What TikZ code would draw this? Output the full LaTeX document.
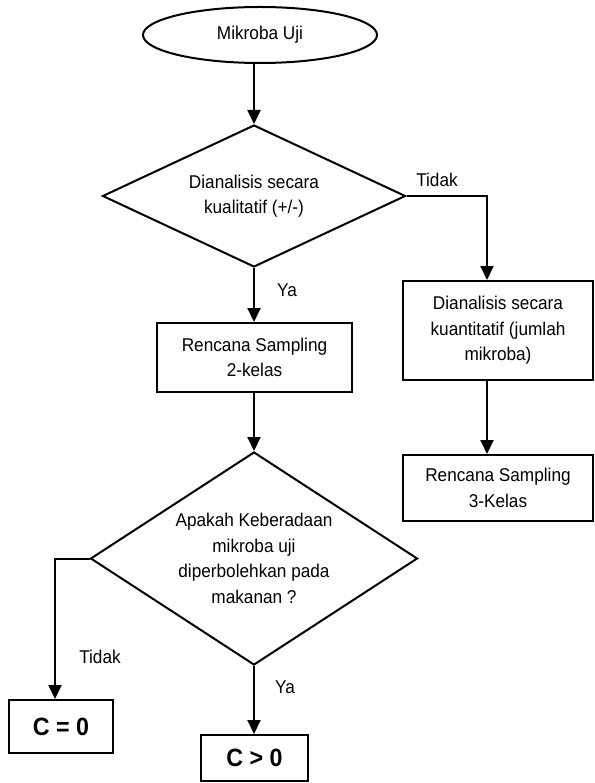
\documentclass[tikz,border=0pt]{standalone}
\usepackage{fontspec}
\setmainfont{Liberation Sans}[FakeStretch=0.93]
\usetikzlibrary{shapes.geometric,arrows.meta}
\begin{document}
\begin{tikzpicture}[x=1pt,y=-1pt,
  every node/.style={font=\fontsize{18.5}{25.5}\selectfont, align=center},
  conn/.style={line width=2pt, -{Triangle[width=13pt,length=14pt]}},
  boxnode/.style={draw, line width=2pt, rectangle, inner sep=0pt},
  decision/.style={draw, line width=2pt, diamond, inner sep=0pt},
  lbl/.style={inner sep=0pt},
  resnode/.style={draw, line width=2pt, rectangle, inner sep=0pt, font=\fontsize{25}{27}\selectfont\bfseries}]
\useasboundingbox (0,0) rectangle (594,783);
\node[draw, line width=2pt, ellipse, inner sep=0pt, minimum width=234pt, minimum height=56pt] (start) at (260,35) {Mikroba Uji};
\node[decision, minimum width=303pt, minimum height=142pt, aspect=2.13] (d1) at (254,196) {Dianalisis secara\\kualitatif (+/-)};
\node[boxnode, minimum width=195pt, minimum height=69pt] (b1) at (254.5,357.5) {Rencana Sampling\\2-kelas};
\node[boxnode, minimum width=190pt, minimum height=99pt] (q1) at (498,330.5) {Dianalisis secara\\kuantitatif (jumlah\\mikroba)};
\node[boxnode, minimum width=190pt, minimum height=66pt] (q2) at (498,488) {Rencana Sampling\\3-Kelas};
\node[decision, minimum width=327pt, minimum height=213pt, aspect=1.535] (d2) at (254,558.5) {Apakah Keberadaan\\mikroba uji\\diperbolehkan pada\\makanan ?};
\node[resnode, minimum width=104pt, minimum height=53pt] (c0) at (61,726.5) {C = 0};
\node[resnode, minimum width=107pt, minimum height=46pt] (cg) at (254.5,758) {C > 0};
\node[lbl] (ya1) at (287,290) {Ya};
\node[lbl] (tidak1) at (437,180) {Tidak};
\node[lbl] (tidak2) at (100,657) {Tidak};
\node[lbl] (ya2) at (285,687) {Ya};
\coordinate (qin) at ([xshift=-11pt]q1.north);
\coordinate (q2in) at ([xshift=-11pt]q2.north);
\coordinate (q1out) at ([xshift=-11pt]q1.south);
\coordinate (c0in) at ([xshift=-6pt]c0.north);
\draw[conn] (start.south -| d1.north) -- (d1.north);
\draw[conn] (d1.south) -- (d1.south |- b1.north);
\draw[conn] (d1.east) -| (qin);
\draw[conn] (q1out) -- (q2in);
\draw[conn] (b1.south -| d2.north) -- (d2.north);
\draw[conn] (d2.west) -| (c0in);
\draw[conn] (d2.south) -- (d2.south |- cg.north);
\end{tikzpicture}
\end{document}
